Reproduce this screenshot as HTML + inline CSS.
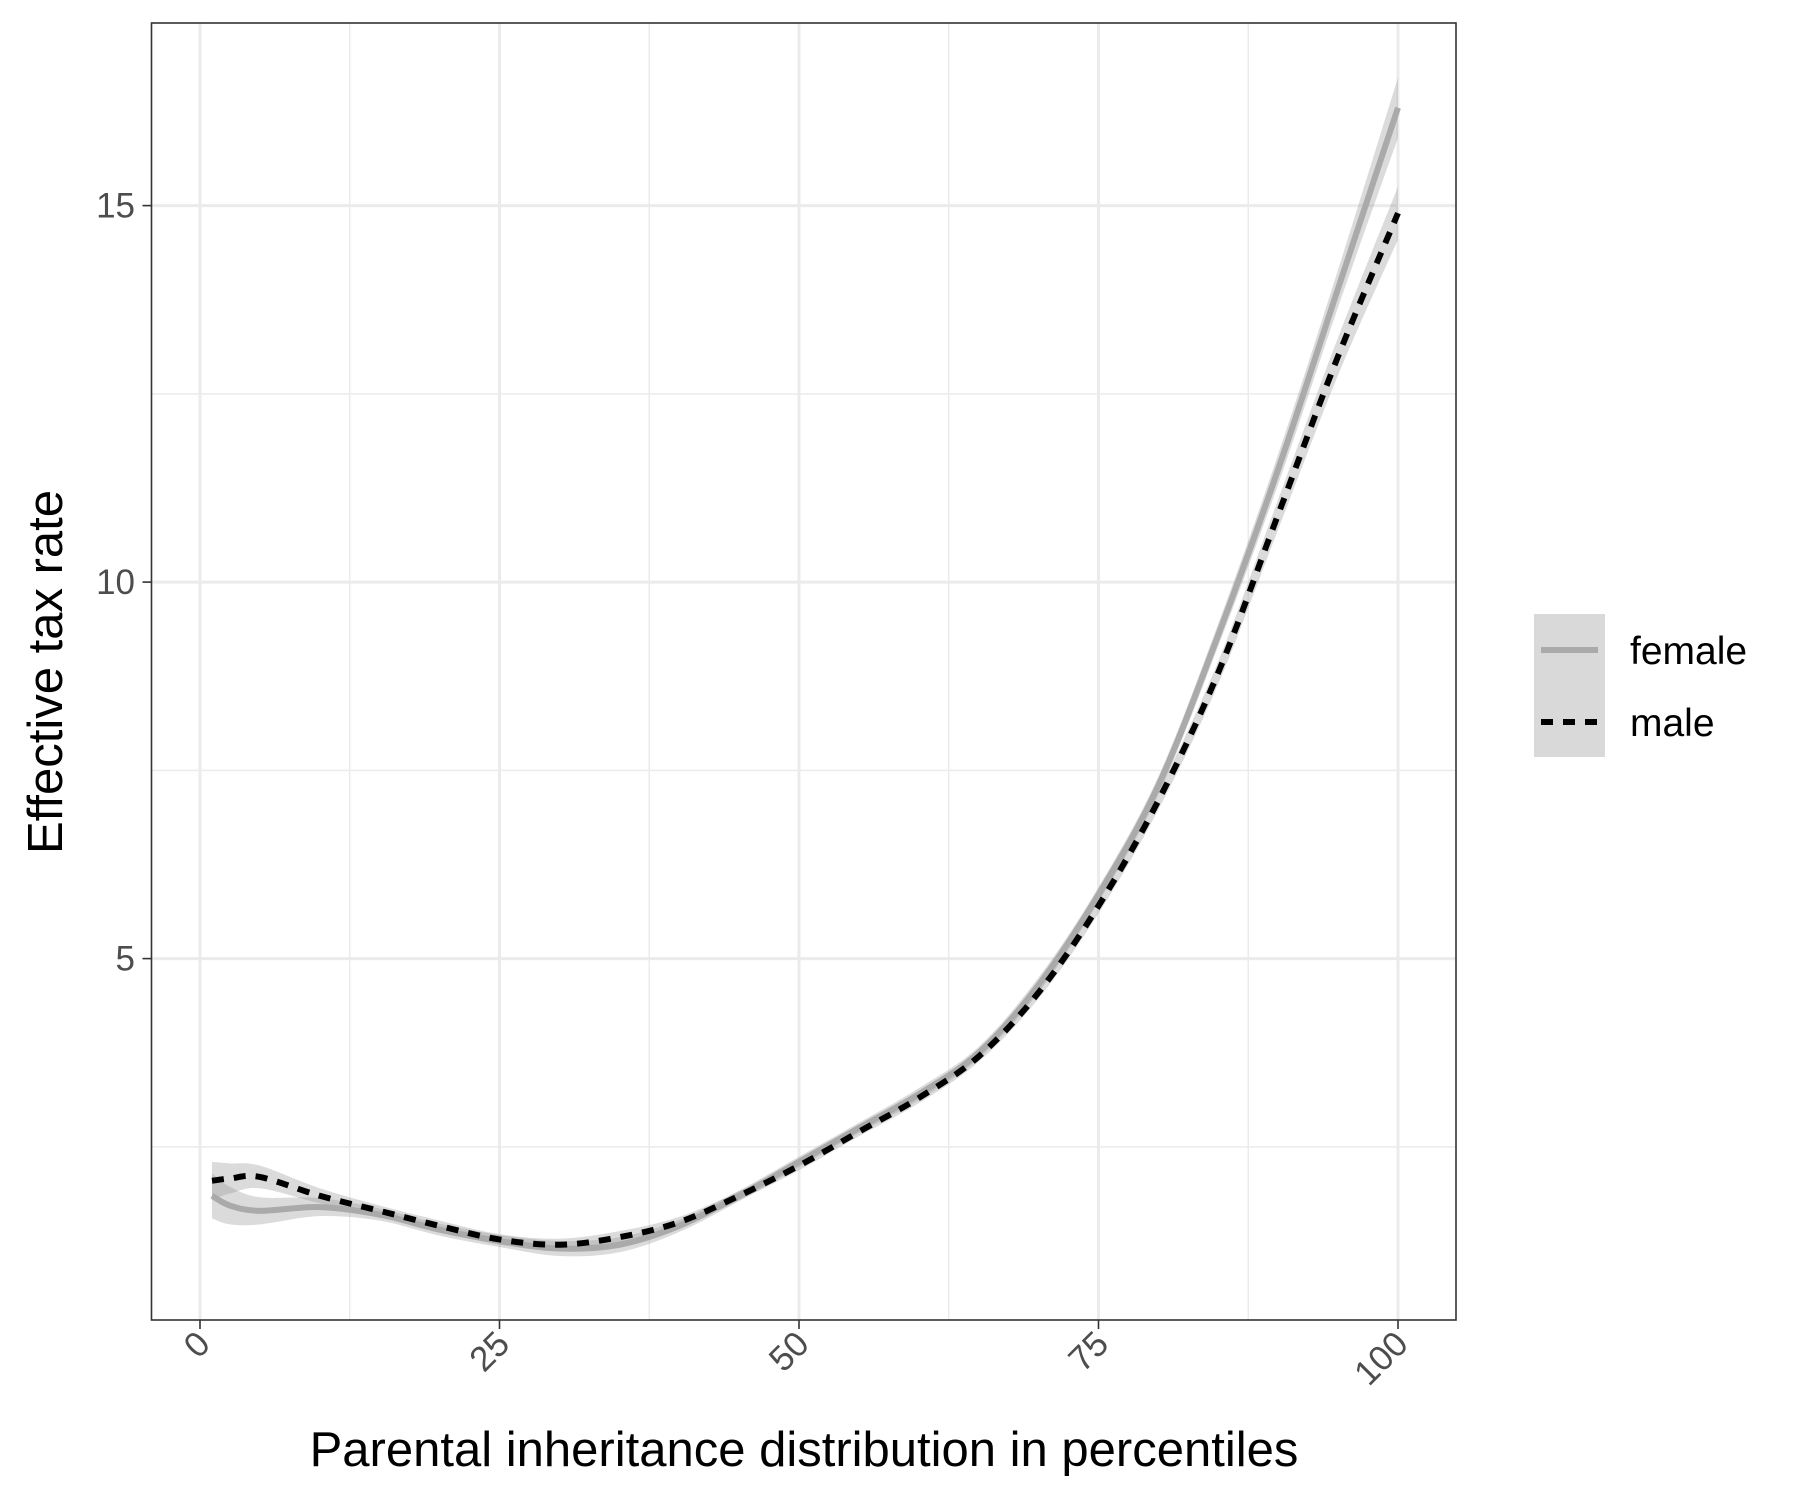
<!DOCTYPE html>
<html><head><meta charset="utf-8"><style>
body{margin:0;background:#fff;}
svg text{font-family:"Liberation Sans",Arial,sans-serif;}
</style></head><body>
<svg id="chart" width="1800" height="1500" xmlns="http://www.w3.org/2000/svg">
<rect x="0" y="0" width="1800" height="1500" fill="#fff"/>
<g id="grid"></g>
<g id="ribbons"></g>
<g id="lines"></g>
<rect x="151.5" y="23" width="1304.5" height="1297" fill="none" stroke="#333" stroke-width="1.6"/>
<g id="axes"></g>
<text x="804" y="1466" font-size="49" text-anchor="middle" fill="#000">Parental inheritance distribution in percentiles</text>
<text transform="translate(62,672) rotate(-90)" font-size="49" text-anchor="middle" fill="#000">Effective tax rate</text>
<g>
<rect x="1534" y="614" width="71" height="72" fill="#d9d9d9"/>
<line x1="1541" y1="650" x2="1598" y2="650" stroke="#aaa" stroke-width="6"/>
<rect x="1534" y="686" width="71" height="71" fill="#d9d9d9"/>
<line x1="1541" y1="722" x2="1598" y2="722" stroke="#000" stroke-width="6" stroke-dasharray="12,10"/>
<text x="1630" y="664" font-size="39">female</text>
<text x="1630" y="736" font-size="39">male</text>
</g>
</svg>
<script>
const xs=[1,2.5,5,10,15,20,25,30,35,40,45,50,55,60,65,70,75,80,85,90,95,100];
const female=[1.85,1.72,1.65,1.7,1.6,1.4,1.25,1.15,1.2,1.45,1.85,2.3,2.75,3.2,3.75,4.65,5.85,7.3,9.3,11.5,13.9,16.3];
const male=[2.05,2.08,2.1,1.85,1.65,1.45,1.27,1.2,1.3,1.5,1.85,2.25,2.7,3.15,3.7,4.55,5.7,7.1,8.8,10.9,13.0,14.9];
const femaleSE=[0.3,0.25,0.18,0.12,0.08,0.08,0.08,0.1,0.1,0.08,0.07,0.07,0.07,0.08,0.08,0.1,0.1,0.12,0.15,0.2,0.25,0.4];
const maleSE=[0.25,0.2,0.15,0.1,0.07,0.07,0.07,0.08,0.08,0.07,0.06,0.06,0.06,0.07,0.07,0.08,0.1,0.12,0.15,0.2,0.25,0.35];
const xTicks=[0,25,50,75,100];
const yTicks=[5,10,15];
const X=v=>200+v*(1398-200)/100;
const Y=v=>958.6-(v-5)*75.3;
const NS='http://www.w3.org/2000/svg';
function mk(tag,attrs,parent){const e=document.createElementNS(NS,tag);for(const k in attrs)e.setAttribute(k,attrs[k]);parent.appendChild(e);return e;}
function smooth(pts){let d='M'+pts[0][0]+','+pts[0][1];for(let i=0;i<pts.length-1;i++){const p0=pts[i-1]||pts[i],p1=pts[i],p2=pts[i+1],p3=pts[i+2]||p2;d+=' C'+(p1[0]+(p2[0]-p0[0])/6)+','+(p1[1]+(p2[1]-p0[1])/6)+' '+(p2[0]-(p3[0]-p1[0])/6)+','+(p2[1]-(p3[1]-p1[1])/6)+' '+p2[0]+','+p2[1];}return d;}
const grid=document.getElementById('grid');
[12.5,37.5,62.5,87.5].forEach(v=>{const l=mk('line',{x1:X(v),x2:X(v),y1:23,y2:1320,stroke:'#ebebeb','stroke-width':1.5},grid);});
[2.5,7.5,12.5].forEach(v=>{const l=mk('line',{x1:151.5,x2:1456,y1:Y(v),y2:Y(v),stroke:'#ebebeb','stroke-width':1.5},grid);});
xTicks.forEach(v=>{const l=mk('line',{x1:X(v),x2:X(v),y1:23,y2:1320,stroke:'#ebebeb','stroke-width':3},grid);});
yTicks.forEach(v=>{const l=mk('line',{x1:151.5,x2:1456,y1:Y(v),y2:Y(v),stroke:'#ebebeb','stroke-width':3},grid);});
const rib=document.getElementById('ribbons');
function ribbon(vals,se,name){const up=xs.map((x,i)=>[X(x),Y(vals[i]+se[i])]);const lo=xs.map((x,i)=>[X(x),Y(vals[i]-se[i])]).reverse();const sl=smooth(lo);const d=smooth(up)+' L'+lo[0][0]+','+lo[0][1]+sl.slice(sl.indexOf(' C'))+' Z';const p=mk('path',{d:d,fill:'#999','fill-opacity':0.35},rib);}
ribbon(female,femaleSE,'female-confidence-band');
ribbon(male,maleSE,'male-confidence-band');
const lines=document.getElementById('lines');
const fl=mk('path',{d:smooth(xs.map((x,i)=>[X(x),Y(female[i])])),fill:'none',stroke:'#aaa','stroke-width':6},lines);

const ml=mk('path',{d:smooth(xs.map((x,i)=>[X(x),Y(male[i])])),fill:'none',stroke:'#000','stroke-width':6,'stroke-dasharray':'12,10'},lines);

const axes=document.getElementById('axes');
xTicks.forEach(v=>{const t=mk('line',{x1:X(v),x2:X(v),y1:1320,y2:1329,stroke:'#333','stroke-width':1.6},axes);
const tx=mk('text',{transform:'translate('+(X(v)+12)+',1346) rotate(-45)','font-size':35,fill:'#4d4d4d','text-anchor':'end'},axes);tx.textContent=v;});
yTicks.forEach(v=>{const t=mk('line',{x1:142.5,x2:151.5,y1:Y(v),y2:Y(v),stroke:'#333','stroke-width':1.6},axes);
const tx=mk('text',{x:135,y:Y(v)+12,'font-size':35,fill:'#4d4d4d','text-anchor':'end'},axes);tx.textContent=v;});
</script>
</body></html>
